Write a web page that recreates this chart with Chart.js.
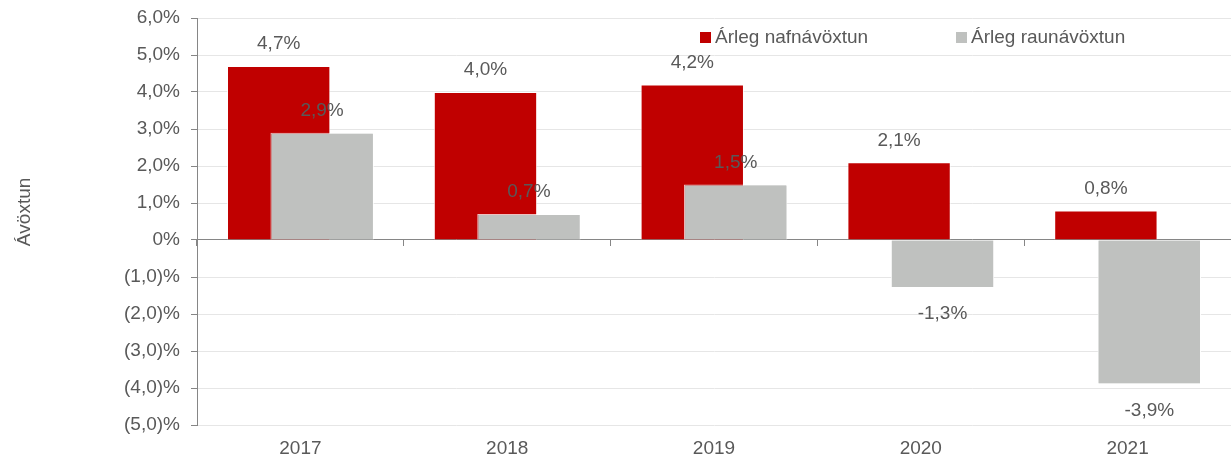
<!DOCTYPE html>
<html>
<head>
<meta charset="utf-8">
<script src="https://cdn.jsdelivr.net/npm/chart.js@4.4.1/dist/chart.umd.min.js"></script>
<style>
    html, body { margin: 0; padding: 0; background: #fff; }
    #wrap { width: 1231px; height: 462px; position: relative; }
</style>
</head>
<body>
<div id="wrap"><canvas id="chart"></canvas></div>
<script>
// Chart data: yearly nominal and real returns (%)
const years = ['2017', '2018', '2019', '2020', '2021'];
const nominalReturn = [4.7, 4.0, 4.2, 2.1, 0.8];
const realReturn = [2.9, 0.7, 1.5, -1.3, -3.9];
const seriesNames = ['Árleg nafnávöxtun', 'Árleg raunávöxtun'];
const seriesColors = ['#C00000', '#BFC1BF'];
const axisTitle = 'Ávöxtun';

const textColor = '#595959';
const fontFamily = "'Liberation Sans', Arial, sans-serif";
const fontSize = 19;

// 4.7 -> "4,7%"
const pct = (v) => v.toFixed(1).replace('.', ',') + '%';
// axis style: negatives in brackets
const axisPct = (v) => {
    if (v === 0) return '0%';
    if (v < 0) return '(' + Math.abs(v).toFixed(1).replace('.', ',') + ')%';
    return pct(v);
};

// draws the gray bars over the red ones, value labels, legend and axis title
const extras = {
    id: 'extras',
    afterDatasetsDraw(chart) {
        const ctx = chart.ctx;
        // real return bars sit on top of the nominal ones
        chart.getDatasetMeta(1).data.forEach(bar => bar.draw(ctx));

        ctx.save();
        ctx.font = fontSize + 'px ' + fontFamily;
        ctx.fillStyle = textColor;
        ctx.textAlign = 'center';
        ctx.textBaseline = 'middle';
        chart.data.datasets.forEach((ds, i) => {
            chart.getDatasetMeta(i).data.forEach((bar, j) => {
                const v = ds.data[j];
                const y = v >= 0 ? bar.y - 22 : bar.y + 26;
                ctx.fillText(pct(v), bar.x, y);
            });
        });

        // legend inside the plot, top right
        const legendX = [700, 956];
        ctx.textAlign = 'left';
        seriesNames.forEach((name, i) => {
            ctx.fillStyle = seriesColors[i];
            ctx.fillRect(legendX[i], 32, 11, 11);
            ctx.fillStyle = textColor;
            ctx.fillText(name, legendX[i] + 15, 38);
        });

        // rotated y axis title
        ctx.textAlign = 'center';
        ctx.translate(25, 212);
        ctx.rotate(-Math.PI / 2);
        ctx.fillText(axisTitle, 0, 0);
        ctx.restore();
    }
};

const barStyle = {
    borderColor: 'rgba(255,255,255,0.75)',
    borderWidth: 1,
    categoryPercentage: 0.42,
    barPercentage: 2.38
};

new Chart(document.getElementById('chart'), {
    type: 'bar',
    data: {
        labels: years,
        datasets: [
            { label: seriesNames[0], data: nominalReturn, backgroundColor: seriesColors[0], ...barStyle },
            { label: seriesNames[1], data: realReturn, backgroundColor: seriesColors[1], ...barStyle }
        ]
    },
    options: {
        responsive: true,
        maintainAspectRatio: false,
        animation: false,
        layout: { padding: { top: 18, right: 0, bottom: 0, left: 0 } },
        plugins: {
            legend: { display: false },
            tooltip: { enabled: false }
        },
        scales: {
            x: {
                grid: { display: false, drawTicks: false },
                border: { display: false },
                ticks: { color: textColor, font: { size: fontSize, family: fontFamily }, padding: 12 },
                afterFit: (s) => { s.height = 37; }
            },
            // small tick marks between the years, hanging from the zero line
            xZero: {
                type: 'category',
                position: { y: 0 },
                offset: true,
                grid: { offset: true, drawOnChartArea: false, drawTicks: true, tickLength: 6, color: '#868686' },
                border: { display: false },
                ticks: { display: false }
            },
            y: {
                min: -5,
                max: 6,
                ticks: {
                    stepSize: 1,
                    color: textColor,
                    // small lineHeight so the top label does not push the plot down
                    font: { size: fontSize, family: fontFamily, lineHeight: 0.6 },
                    padding: 11,
                    callback: (v) => axisPct(v)
                },
                grid: {
                    color: (c) => c.tick && c.tick.value === 0 ? '#868686' : '#E6E6E6',
                    tickColor: '#868686',
                    tickLength: 6
                },
                border: { display: true, color: '#868686' },
                afterFit: (s) => { s.width = 197; }
            }
        }
    },
    plugins: [extras]
});
</script>
</body>
</html>
